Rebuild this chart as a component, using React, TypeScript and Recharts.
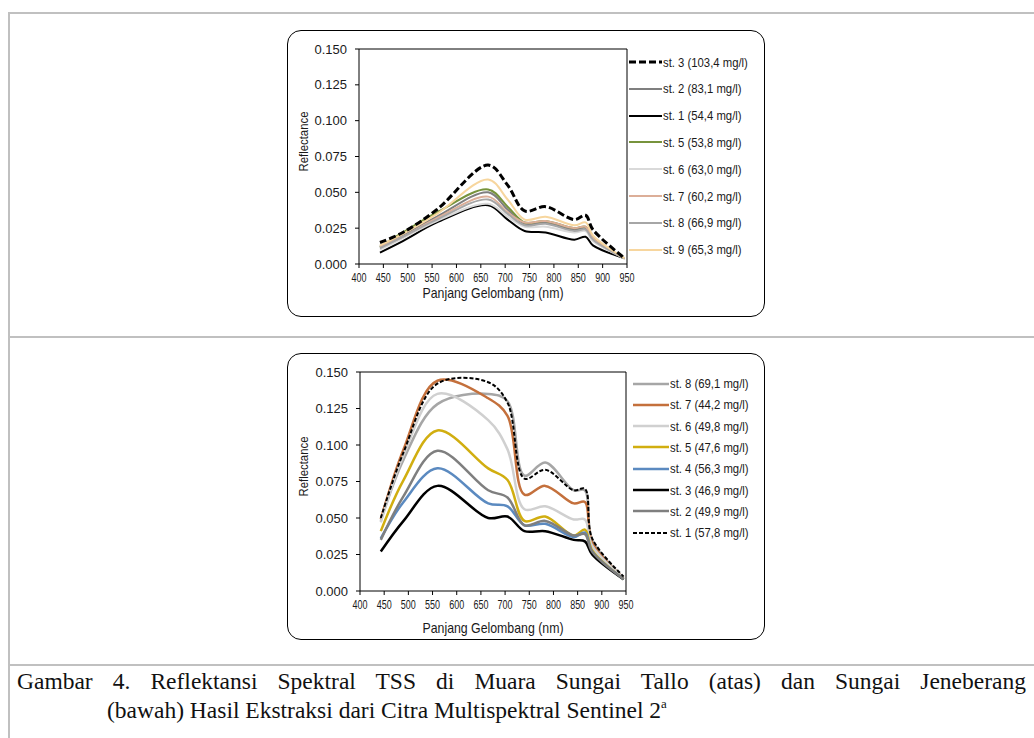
import React from 'react';
import { LineChart, Line, XAxis, YAxis, ReferenceLine } from 'recharts';

// Sentinel-2 band centres (nm) + one read point on the NIR drop
const wavelengths = [443, 490, 560, 665, 705, 740, 783, 842, 865, 880, 945];
const xTicks = [400, 450, 500, 550, 600, 650, 700, 750, 800, 850, 900, 950];
const yTicks = [0, 0.025, 0.05, 0.075, 0.1, 0.125, 0.15];

// Muara Sungai Tallo (atas)
const talloSt3 = [0.015, 0.022, 0.038, 0.069, 0.055, 0.037, 0.040, 0.031, 0.034, 0.024, 0.004];
const talloSt2 = [0.012, 0.020, 0.033, 0.050, 0.038, 0.028, 0.029, 0.024, 0.025, 0.017, 0.004];
const talloSt1 = [0.008, 0.016, 0.029, 0.041, 0.031, 0.023, 0.022, 0.017, 0.019, 0.013, 0.004];
const talloSt5 = [0.012, 0.022, 0.036, 0.052, 0.040, 0.029, 0.030, 0.025, 0.026, 0.018, 0.004];
const talloSt6 = [0.010, 0.018, 0.030, 0.042, 0.033, 0.026, 0.026, 0.022, 0.023, 0.016, 0.004];
const talloSt7 = [0.012, 0.019, 0.032, 0.047, 0.036, 0.029, 0.030, 0.025, 0.026, 0.018, 0.004];
const talloSt8 = [0.011, 0.019, 0.031, 0.045, 0.035, 0.027, 0.028, 0.023, 0.024, 0.017, 0.004];
const talloSt9 = [0.013, 0.021, 0.035, 0.059, 0.045, 0.031, 0.033, 0.027, 0.029, 0.020, 0.004];

// Sungai Jeneberang (bawah)
const jeneSt8 = [0.048, 0.090, 0.128, 0.135, 0.130, 0.079, 0.088, 0.069, 0.069, 0.035, 0.009];
const jeneSt7 = [0.049, 0.097, 0.144, 0.132, 0.120, 0.066, 0.072, 0.060, 0.061, 0.033, 0.009];
const jeneSt6 = [0.047, 0.093, 0.135, 0.117, 0.097, 0.056, 0.058, 0.049, 0.049, 0.031, 0.009];
const jeneSt5 = [0.041, 0.076, 0.110, 0.084, 0.076, 0.048, 0.051, 0.038, 0.042, 0.028, 0.008];
const jeneSt4 = [0.036, 0.061, 0.084, 0.060, 0.058, 0.045, 0.046, 0.037, 0.040, 0.027, 0.008];
const jeneSt3 = [0.027, 0.048, 0.072, 0.050, 0.051, 0.041, 0.041, 0.035, 0.034, 0.025, 0.008];
const jeneSt2 = [0.035, 0.065, 0.096, 0.069, 0.064, 0.045, 0.048, 0.038, 0.039, 0.027, 0.008];
const jeneSt1 = [0.050, 0.095, 0.142, 0.143, 0.129, 0.077, 0.083, 0.069, 0.070, 0.036, 0.010];

type Series = { key: string; label: string; values: number[]; color: string; width: number; dash?: string };

const talloSeries: Series[] = [
  { key: 't3', label: 'st. 3 (103,4 mg/l)', values: talloSt3, color: '#000000', width: 3, dash: '7 3' },
  { key: 't2', label: 'st. 2 (83,1 mg/l)', values: talloSt2, color: '#7f7f7f', width: 2 },
  { key: 't1', label: 'st. 1 (54,4 mg/l)', values: talloSt1, color: '#000000', width: 2 },
  { key: 't5', label: 'st. 5 (53,8 mg/l)', values: talloSt5, color: '#77933c', width: 2 },
  { key: 't6', label: 'st. 6 (63,0 mg/l)', values: talloSt6, color: '#d9d9d9', width: 2 },
  { key: 't7', label: 'st. 7 (60,2 mg/l)', values: talloSt7, color: '#dcae98', width: 2 },
  { key: 't8', label: 'st. 8 (66,9 mg/l)', values: talloSt8, color: '#a6a6a6', width: 2 },
  { key: 't9', label: 'st. 9 (65,3 mg/l)', values: talloSt9, color: '#f7d69e', width: 2 },
];

const jeneSeries: Series[] = [
  { key: 'j8', label: 'st. 8 (69,1 mg/l)', values: jeneSt8, color: '#a6a6a6', width: 2.5 },
  { key: 'j7', label: 'st. 7 (44,2 mg/l)', values: jeneSt7, color: '#c4703c', width: 2.5 },
  { key: 'j6', label: 'st. 6 (49,8 mg/l)', values: jeneSt6, color: '#d0d0d0', width: 2.5 },
  { key: 'j5', label: 'st. 5 (47,6 mg/l)', values: jeneSt5, color: '#d1ae10', width: 2.5 },
  { key: 'j4', label: 'st. 4 (56,3 mg/l)', values: jeneSt4, color: '#5b8ac0', width: 2.5 },
  { key: 'j3', label: 'st. 3 (46,9 mg/l)', values: jeneSt3, color: '#000000', width: 2.5 },
  { key: 'j2', label: 'st. 2 (49,9 mg/l)', values: jeneSt2, color: '#7f7f7f', width: 2.5 },
  { key: 'j1', label: 'st. 1 (57,8 mg/l)', values: jeneSt1, color: '#000000', width: 2, dash: '4 2' },
];

const toRows = (series: Series[]) =>
  wavelengths.map((nm, i) => {
    const row: Record<string, number> = { nm };
    series.forEach(s => { row[s.key] = s.values[i]; });
    return row;
  });

// Excel-like smoothed line: centripetal Catmull-Rom through every point
const catmullRom = (context: any) => {
  let pts: [number, number][] = [];
  const alpha = 0.5;
  const draw = () => {
    if (!pts.length) return;
    context.moveTo(pts[0][0], pts[0][1]);
    for (let i = 0; i < pts.length - 1; i++) {
      const p0 = pts[i - 1] || pts[i];
      const p1 = pts[i];
      const p2 = pts[i + 1];
      const p3 = pts[i + 2] || p2;
      const d = (a: number[], b: number[]) => Math.hypot(b[0] - a[0], b[1] - a[1]);
      const l01a = Math.pow(d(p0, p1), alpha), l01_2a = l01a * l01a;
      const l12a = Math.pow(d(p1, p2), alpha), l12_2a = l12a * l12a;
      const l23a = Math.pow(d(p2, p3), alpha), l23_2a = l23a * l23a;
      let c1x = p1[0], c1y = p1[1], c2x = p2[0], c2y = p2[1];
      if (l01a > 1e-6) {
        const a = 2 * l01_2a + 3 * l01a * l12a + l12_2a;
        const n = 3 * l01a * (l01a + l12a);
        c1x = (p1[0] * a - p0[0] * l12_2a + p2[0] * l01_2a) / n;
        c1y = (p1[1] * a - p0[1] * l12_2a + p2[1] * l01_2a) / n;
      }
      if (l23a > 1e-6) {
        const b = 2 * l23_2a + 3 * l23a * l12a + l12_2a;
        const m = 3 * l23a * (l23a + l12a);
        c2x = (p2[0] * b + p1[0] * l23_2a - p3[0] * l12_2a) / m;
        c2y = (p2[1] * b + p1[1] * l23_2a - p3[1] * l12_2a) / m;
      }
      context.bezierCurveTo(c1x, c1y, c2x, c2y, p2[0], p2[1]);
    }
  };
  return {
    areaStart() {},
    areaEnd() {},
    lineStart() { pts = []; },
    point(x: number, y: number) { pts.push([+x, +y]); },
    lineEnd() { draw(); },
  };
};

const SANS = "'Liberation Sans', Arial, sans-serif";
const INK = '#1a1a1a';

const XTick = (props: any) => {
  const { x, y, payload } = props;
  return (
    <text x={x} y={y} dy="0.71em" textAnchor="middle" fontSize={12} fontFamily={SANS} fill={INK}
      textLength={15} lengthAdjust="spacingAndGlyphs">
      {payload.value}
    </text>
  );
};

type PanelProps = {
  series: Series[];
  top: number;
  plotLeft: number;
  plotRight: number;
  plotTop: number;
  plotBottom: number;
  titleDy: number;
  legendTop: number;
  legendStep: number;
  legendX: number;
  lineLen: number;
};

const W = 478;
const H = 288;

const Panel: React.FC<PanelProps> = p => {
  const data = toRows(p.series);
  // dashed series drawn last so it sits on top
  const drawOrder = [...p.series].sort((a, b) => (a.dash ? 1 : 0) - (b.dash ? 1 : 0));
  return (
    <>
      <div
        style={{
          position: 'absolute', left: 287, top: p.top, width: W, height: H - 1,
          border: '1.5px solid #000', borderRadius: 14, boxSizing: 'border-box',
        }}
      />
      <div style={{ position: 'absolute', left: 287, top: p.top, width: W, height: H }}>
        <LineChart
          width={W}
          height={H}
          data={data}
          margin={{ top: p.plotTop, right: W - p.plotRight, bottom: 0, left: 0 }}
        >
          <XAxis
            dataKey="nm"
            type="number"
            domain={[400, 950]}
            ticks={xTicks}
            allowDataOverflow
            interval={0}
            height={H - p.plotBottom}
            stroke="#000"
            tickSize={4}
            tickMargin={5}
            tick={<XTick />}
            label={{
              content: (lp: any) => {
                const vb = lp.viewBox;
                return (
                  <text x={vb.x + vb.width / 2} y={vb.y + p.titleDy} textAnchor="middle"
                    fontSize={14.5} fontFamily={SANS} fill={INK} textLength={141} lengthAdjust="spacingAndGlyphs">
                    Panjang Gelombang (nm)
                  </text>
                );
              },
            }}
          />
          <YAxis
            type="number"
            domain={[0, 0.15]}
            ticks={yTicks}
            allowDataOverflow
            width={p.plotLeft}
            stroke="#000"
            tickSize={4}
            tickMargin={8}
            tickFormatter={(v: number) => v.toFixed(3)}
            tick={{ fontSize: 13, fontFamily: SANS, fill: INK }}
            label={{
              content: (lp: any) => {
                const vb = lp.viewBox;
                const cx = 16;
                const cy = vb.y + vb.height / 2 - 15;
                return (
                  <text x={cx} y={cy} transform={`rotate(-90 ${cx} ${cy})`} textAnchor="middle"
                    dominantBaseline="central" fontSize={13.5} fontFamily={SANS} fill={INK}
                    textLength={60} lengthAdjust="spacingAndGlyphs">
                    Reflectance
                  </text>
                );
              },
            }}
          />
          <ReferenceLine y={0.15} stroke="#000" strokeWidth={1} />
          <ReferenceLine x={950} stroke="#000" strokeWidth={1} />
          {drawOrder.map(s => (
            <Line
              key={s.key}
              dataKey={s.key}
              type={catmullRom as any}
              stroke={s.color}
              strokeWidth={s.width}
              strokeDasharray={s.dash}
              dot={false}
              isAnimationActive={false}
            />
          ))}
        </LineChart>
      </div>
      {p.series.map((s, i) => {
        const y = p.legendTop + i * p.legendStep;
        return (
          <div
            key={s.key}
            style={{
              position: 'absolute', left: p.legendX, top: y - 8, height: 16,
              display: 'flex', alignItems: 'center', whiteSpace: 'nowrap',
            }}
          >
            <svg width={p.lineLen} height={16} style={{ display: 'block' }}>
              <line
                x1={0} y1={8} x2={p.lineLen} y2={8}
                stroke={s.color} strokeWidth={s.width} strokeDasharray={s.dash}
              />
            </svg>
            <span
              style={{
                fontFamily: SANS, fontSize: 13, color: INK, marginLeft: 1,
                display: 'inline-block', transform: 'scaleX(0.87)', transformOrigin: 'left center',
              }}
            >
              {s.label}
            </span>
          </div>
        );
      })}
    </>
  );
};

const gray = '#c0c0c0';
const SERIF = "'Liberation Serif', 'Times New Roman', serif";

export default function App() {
  return (
    <div style={{ position: 'fixed', left: 0, top: 0, width: 1034, height: 738, background: '#fff', overflow: 'hidden' }}>
      <div style={{ position: 'absolute', left: 8, top: 12, width: 1040, height: 2, background: gray }} />
      <div style={{ position: 'absolute', left: 8, top: 12, width: 2, height: 740, background: gray }} />
      <div style={{ position: 'absolute', left: 8, top: 336, width: 1040, height: 2, background: gray }} />
      <div style={{ position: 'absolute', left: 8, top: 664, width: 1040, height: 2, background: gray }} />

      <Panel
        series={talloSeries}
        top={30}
        plotLeft={72}
        plotRight={340}
        plotTop={19}
        plotBottom={234}
        titleDy={34}
        legendTop={62}
        legendStep={26.8}
        legendX={629}
        lineLen={33}
      />
      <Panel
        series={jeneSeries}
        top={353}
        plotLeft={73}
        plotRight={339}
        plotTop={19}
        plotBottom={238}
        titleDy={42}
        legendTop={383.5}
        legendStep={21.3}
        legendX={633}
        lineLen={36}
      />

      <div
        style={{
          position: 'absolute', left: 17, top: 667, width: 1009,
          fontFamily: SERIF, fontSize: 23.5, lineHeight: '29px', color: '#111',
          textAlign: 'justify', textAlignLast: 'justify', whiteSpace: 'nowrap',
        }}
      >
        Gambar 4. Reflektansi Spektral TSS di Muara Sungai Tallo (atas) dan Sungai Jeneberang
      </div>
      <div
        style={{
          position: 'absolute', left: 107, top: 696,
          fontFamily: SERIF, fontSize: 23.5, lineHeight: '29px', color: '#111', whiteSpace: 'nowrap',
        }}
      >
        (bawah) Hasil Ekstraksi dari Citra Multispektral Sentinel 2
        <sup style={{ fontSize: '0.55em', verticalAlign: '0.75em', lineHeight: 0 }}>a</sup>
      </div>
    </div>
  );
}
